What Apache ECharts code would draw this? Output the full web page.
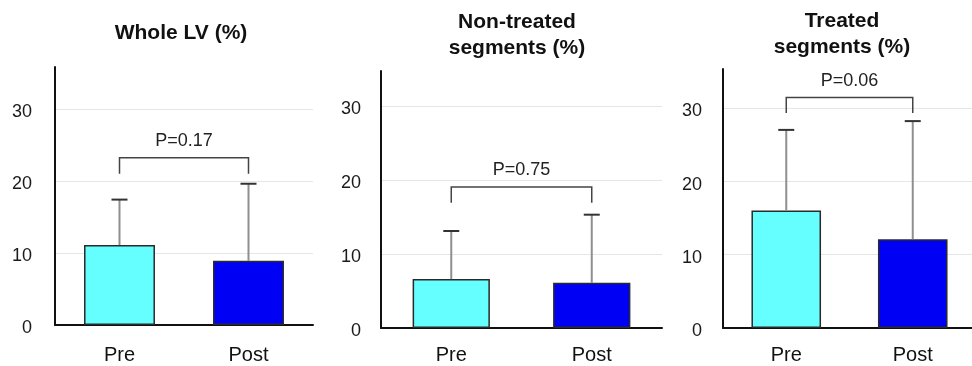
<!DOCTYPE html>
<html>
<head>
<meta charset="utf-8">
<script src="https://cdn.jsdelivr.net/npm/echarts@6/dist/echarts.min.js"></script>
<style>
  html, body { margin: 0; padding: 0; background: #fff; }
  #chart { width: 972px; height: 366px; }
</style>
</head>
<body>
<div id="chart"></div>
<script>
// data
const categories = ['Pre', 'Post'];
const panelTitles = ['Whole LV (%)', 'Non-treated\nsegments (%)', 'Treated\nsegments (%)'];
const wholeMean = [11.1, 8.9];
const wholeSD = [6.3, 10.7];
const nonTreatedMean = [6.6, 6.1];
const nonTreatedSD = [6.5, 9.2];
const treatedMean = [16.0, 12.1];
const treatedSD = [11.0, 16.1];
const pValues = ['P=0.17', 'P=0.75', 'P=0.06'];
const bracketTop = [23.2, 19.05, 31.4];
const bracketFoot = [21.0, 16.9, 29.3];
const yTicks = [0, 10, 20, 30];

const means = [wholeMean, nonTreatedMean, treatedMean];
const sds = [wholeSD, nonTreatedSD, treatedSD];

const barColors = ['#66ffff', '#0000f5'];
const font = '"Liberation Sans", Arial, sans-serif';

// panel layout (pixels) - last panel runs a little past the right edge
const grids = [
  { left: 55, top: 67, width: 258, height: 258, outerBoundsMode: 'none' },
  { left: 381, top: 71, width: 281, height: 257, outerBoundsMode: 'none' },
  { left: 723, top: 69, width: 253, height: 259, outerBoundsMode: 'none' },
];
const yMax = [35.8, 34.7, 35.3];
const yLabelMargin = [23, 20, 21];
const xLabelMargin = [20, 17, 17];
const titlePos = [
  { x: 181, top: 20 },
  { x: 517, top: 9 },
  { x: 842, top: 8 },
];

const chart = echarts.init(document.getElementById('chart'), null, { renderer: 'canvas' });

const title = panelTitles.map((t, i) => ({
  text: t,
  left: titlePos[i].x,
  top: titlePos[i].top,
  textAlign: 'center',
  padding: 0,
  textStyle: {
    fontFamily: font,
    fontSize: 21,
    fontWeight: 'bold',
    color: '#111',
    lineHeight: 26,
  },
}));

const xAxis = grids.map((g, i) => ({
  type: 'category',
  gridIndex: i,
  data: categories,
  axisLine: { lineStyle: { color: '#111', width: 2 } },
  axisTick: { show: false },
  axisLabel: {
    fontFamily: font,
    fontSize: 20,
    color: '#111',
    margin: xLabelMargin[i],
  },
}));

const yAxis = grids.map((g, i) => ({
  type: 'value',
  gridIndex: i,
  min: 0,
  max: yMax[i],
  interval: 10,
  axisLine: { show: true, lineStyle: { color: '#111', width: 2 } },
  axisTick: { show: false },
  axisLabel: {
    fontFamily: font,
    fontSize: 18,
    color: '#1a1a1a',
    margin: yLabelMargin[i],
    verticalAlign: 'top',
    lineHeight: 7,
    showMaxLabel: false,
    formatter: (v) => (yTicks.includes(v) ? String(v) : ''),
  },
  splitLine: {
    show: true,
    showMinLine: false,
    showMaxLine: false,
    lineStyle: { color: '#e6e6e6', width: 1 },
  },
}));

const series = [];
means.forEach((m, i) => {
  series.push({
    type: 'bar',
    xAxisIndex: i,
    yAxisIndex: i,
    barWidth: '55%',
    data: m.map((v, k) => ({
      value: v,
      itemStyle: { color: barColors[k], borderColor: '#2a2a2a', borderWidth: 1.5 },
    })),
    silent: true,
  });

  // error bars (upper only)
  series.push({
    type: 'custom',
    xAxisIndex: i,
    yAxisIndex: i,
    z: 3,
    silent: true,
    data: m.map((v, k) => [k, v, sds[i][k]]),
    renderItem: (params, api) => {
      const x = api.value(0);
      const y = api.value(1);
      const sd = api.value(2);
      const base = api.coord([x, y]);
      const top = api.coord([x, y + sd]);
      return {
        type: 'group',
        children: [
          {
            type: 'line',
            shape: { x1: base[0], y1: base[1], x2: top[0], y2: top[1] },
            style: { stroke: '#8f8f8f', lineWidth: 2 },
          },
          {
            type: 'line',
            shape: { x1: top[0] - 8, y1: top[1], x2: top[0] + 8, y2: top[1] },
            style: { stroke: '#333', lineWidth: 2 },
          },
        ],
      };
    },
  });

  // significance bracket
  series.push({
    type: 'custom',
    xAxisIndex: i,
    yAxisIndex: i,
    z: 4,
    silent: true,
    data: [[0, bracketTop[i], 1, bracketFoot[i]]],
    renderItem: (params, api) => {
      const yTop = api.value(1);
      const yFoot = api.value(3);
      const a = api.coord([0, yTop]);
      const b = api.coord([1, yTop]);
      const foot = api.coord([0, yFoot]);
      return {
        type: 'group',
        children: [
          {
            type: 'polyline',
            shape: { points: [[a[0], foot[1]], [a[0], a[1]], [b[0], b[1]], [b[0], foot[1]]] },
            style: { stroke: '#444', lineWidth: 1.5, fill: null },
          },
          {
            type: 'text',
            style: {
              text: pValues[i],
              x: (a[0] + b[0]) / 2,
              y: a[1] - 17,
              align: 'center',
              verticalAlign: 'middle',
              font: '18px ' + font,
              fill: '#222',
            },
          },
        ],
      };
    },
  });
});

chart.setOption({
  backgroundColor: '#fff',
  animation: false,
  title,
  grid: grids,
  xAxis,
  yAxis,
  series,
});
</script>
</body>
</html>
